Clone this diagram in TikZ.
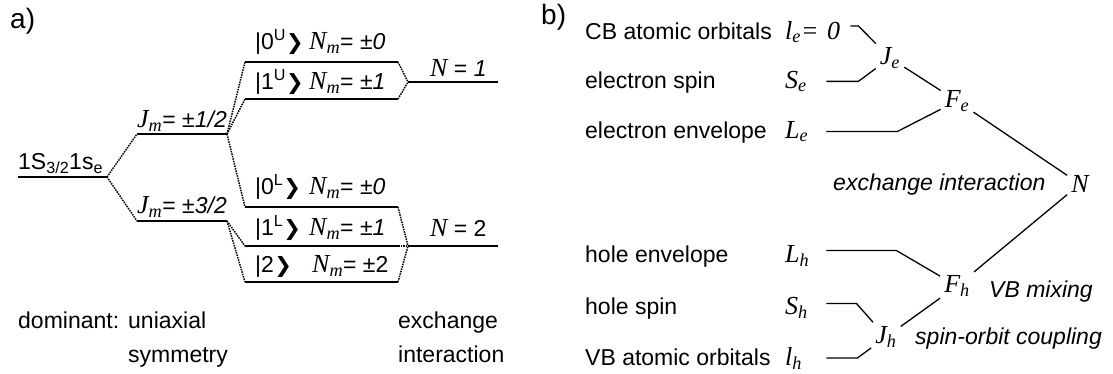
\documentclass[tikz,border=0pt]{standalone}
\usepackage{fontspec}
\setmainfont{Liberation Serif}
\setsansfont{Liberation Sans}
\newfontfamily\dingfont{DejaVu Sans}
\usetikzlibrary{positioning}

\newcommand{\ket}[2]{|#1\textsuperscript{#2}{\dingfont\fontsize{21}{28}\selectfont ❯}}
\newcommand{\qn}[2]{{\rmfamily\itshape\fontsize{26}{30}\selectfont #1\textsubscript{#2}}}

\begin{document}
\begin{tikzpicture}[
x=1pt, y=-1pt,
every node/.style={inner sep=0pt, font=\sffamily\fontsize{23}{28}\selectfont},
level/.style={line width=1.6pt},
split/.style={densely dotted, line width=1.5pt},
link/.style={line width=1.3pt},
sym/.style={anchor=base west, text width=41pt, font=\rmfamily\itshape\fontsize{26}{30}\selectfont},
junc/.style={inner sep=4pt, font=\rmfamily\itshape\fontsize{26}{30}\selectfont},
note/.style={anchor=base west, font=\sffamily\itshape\fontsize{23}{28}\selectfont},
panel/.style={anchor=base west, font=\sffamily\fontsize{28}{32}\selectfont}
]
\useasboundingbox (0,0) rectangle (1113,373);

% a) levels
\node[panel] (pa) at (10,28) {a)};
\foreach \n/\xa/\xb/\y in {S/18/107/177, J1/137/227/134, J3/137/227/221,
  U0/245/398/62, U1/245/398/99, L0/245/398/207, L1/245/398/246, L2/245/398/282,
  N1/408/498/82, N2/408/498/246}{
    \coordinate (\n-l) at (\xa,\y);
    \coordinate (\n-r) at (\xb,\y);
    \draw[level] (\n-l) -- (\n-r);
}
\foreach \a/\b in {S/J1, S/J3, J1/U0, J1/U1, J1/L0, J3/L1, J3/L2,
  U0/N1, U1/N1, L0/N2, L1/N2, L2/N2}{
    \draw[split] (\a-r) -- (\b-l);
}

\node[anchor=south west] (Slab) at (18,174) {1S\textsubscript{3/2}1s\textsubscript{e}};
\node[anchor=west] (J1lab) at (137,121) {\qn{J}{m}= \textit{±1/2}};
\node[anchor=west] (J3lab) at (137,207) {\qn{J}{m}= \textit{±3/2}};
\node[anchor=west] (U0lab) at (255,42) {\makebox[54pt][l]{\ket{0}{U}}\qn{N}{m}= \textit{±0}};
\node[anchor=west] (U1lab) at (255,82) {\makebox[54pt][l]{\ket{1}{U}}\qn{N}{m}= \textit{±1}};
\node[anchor=west] (L0lab) at (255,187) {\makebox[54pt][l]{\ket{0}{L}}\qn{N}{m}= \textit{±0}};
\node[anchor=west] (L1lab) at (255,228) {\makebox[54pt][l]{\ket{1}{L}}\qn{N}{m}= \textit{±1}};
\node[anchor=west] (L2lab) at (255,267) {\makebox[57pt][l]{\ket{2}{}}\qn{N}{m}= ±2};
\node[anchor=west] (N1lab) at (430,68) {{\rmfamily\itshape\fontsize{26}{30}\selectfont N} = \textit{1}};
\node[anchor=west] (N2lab) at (430,228) {{\rmfamily\itshape\fontsize{26}{30}\selectfont N} = 2};

\node[anchor=base west] (dom) at (18,328) {dominant:};
\node[anchor=base west] (uni) at (128,328) {uniaxial};
\node[anchor=base west] (sym) at (128,362) {symmetry};
\node[anchor=base west] (exch) at (398,328) {exchange};
\node[anchor=base west] (intr) at (398,362) {interaction};

% b) coupling scheme
\node[panel] (pb) at (541,24) {b)};
\foreach \t/\y in {CB atomic orbitals/39, electron spin/88, electron envelope/138,
  hole envelope/262, hole spin/314, VB atomic orbitals/365}{
    \node[anchor=base west] at (585,\y) {\t};
}
\node[sym, text width=65pt] (le) at (785,39) {l\textsubscript{e}= 0};
\node[sym] (Se) at (785,88) {S\textsubscript{e}};
\node[sym] (Le) at (785,138) {L\textsubscript{e}};
\node[sym] (Lh) at (785,262) {L\textsubscript{h}};
\node[sym] (Sh) at (785,314) {S\textsubscript{h}};
\node[sym] (lh) at (785,365) {l\textsubscript{h}};

\node[junc] (Je) at (890,58) {J\textsubscript{e}};
\node[junc] (Fe) at (957,101) {F\textsubscript{e}};
\node[junc] (N) at (1080,184) {N};
\node[junc] (Fh) at (957,286) {F\textsubscript{h}};
\node[junc] (Jh) at (886,337) {J\textsubscript{h}};

\node[note] (xlab) at (833,190) {exchange interaction};
\node[note] (vlab) at (989,297) {VB mixing};
\node[note] (slab) at (915,344) {spin-orbit coupling};

\draw[link] ([yshift=6pt]le.east) -- ++(8,0) -- (Je);
\draw[link] (Se.east) -- ++(32,0) -- (Je);
\draw[link] (Le.east) -- ++(71,0) -- (Fe);
\draw[link] (Je) -- (Fe);
\draw[link] (Fe) -- (N);
\draw[link] (N) -- (Fh);
\draw[link] ([yshift=5pt]Lh.east) -- ++(70,0) -- (Fh);
\draw[link] ([yshift=4pt]Sh.east) -- ++(30,0) -- (Jh);
\draw[link] (lh.east) -- ++(31,0) -- (Jh);
\draw[link] (Jh) -- (Fh);
\end{tikzpicture}
\end{document}
